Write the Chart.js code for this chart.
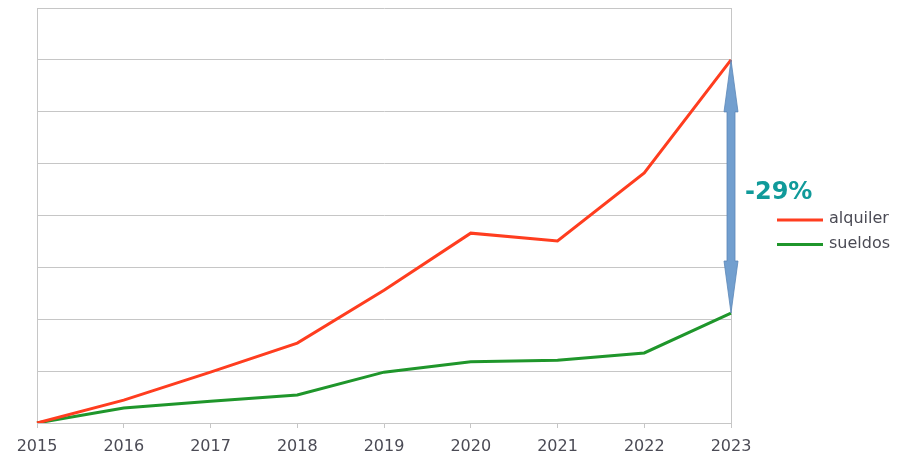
<!DOCTYPE html>
<html>
<head>
<meta charset="utf-8">
<script src="https://cdn.jsdelivr.net/npm/chart.js@4"></script>
<style>
  html, body { margin: 0; padding: 0; background: #fff; }
  #wrap { width: 913px; height: 464px; }
</style>
</head>
<body>
<div id="wrap"><canvas id="myChart"></canvas></div>
<script>
//** DATA */
const years = ['2015', '2016', '2017', '2018', '2019', '2020', '2021', '2022', '2023'];
const alquiler = [0, 0.44, 0.98, 1.54, 2.56, 3.66, 3.51, 4.82, 7.0];
const sueldos = [0, 0.29, 0.42, 0.54, 0.98, 1.18, 1.21, 1.35, 2.12];
const gapLabel = '-29%';

const gridColor = '#c6c6c6';
const textColor = '#4b4b55';
const fontFamily = "'DejaVu Sans', sans-serif";

//** ARROW + LABEL + LEGEND, drawn after the lines */
const extras = {
  id: 'extras',
  afterDatasetsDraw(chart) {
    const c = chart.ctx;
    const x = chart.scales.x.getPixelForValue(years.length - 1);
    const yTop = chart.scales.y.getPixelForValue(alquiler[alquiler.length - 1]);
    const yBot = chart.scales.y.getPixelForValue(sueldos[sueldos.length - 1]);
    const shaft = 4, head = 7, headLen = 52;

    c.save();
    c.fillStyle = '#729fcf';
    c.strokeStyle = '#5a87b8';
    c.lineWidth = 0.8;
    c.beginPath();
    c.moveTo(x, yTop);
    c.lineTo(x + head, yTop + headLen);
    c.lineTo(x + shaft, yTop + headLen);
    c.lineTo(x + shaft, yBot - headLen);
    c.lineTo(x + head, yBot - headLen);
    c.lineTo(x, yBot);
    c.lineTo(x - head, yBot - headLen);
    c.lineTo(x - shaft, yBot - headLen);
    c.lineTo(x - shaft, yTop + headLen);
    c.lineTo(x - head, yTop + headLen);
    c.closePath();
    c.fill();
    c.stroke();

    // percentage label
    c.fillStyle = '#109a9a';
    c.font = 'bold 24px ' + fontFamily;
    c.textBaseline = 'alphabetic';
    c.textAlign = 'left';
    c.fillText(gapLabel, 745, 199);

    // legend
    c.font = '16px ' + fontFamily;
    c.textBaseline = 'middle';
    chart.data.datasets.forEach((ds, i) => {
      const ly = 220 + i * 24.5;
      c.strokeStyle = ds.borderColor;
      c.lineWidth = 3;
      c.beginPath();
      c.moveTo(777, ly);
      c.lineTo(823, ly);
      c.stroke();
      c.fillStyle = textColor;
      c.fillText(ds.label, 829, ly - 1);
    });
    c.restore();
  }
};

const ctx = document.getElementById('myChart');

const chart = new Chart(ctx, {
  type: 'line',
  data: {
    labels: years,
    datasets: [
      {
        label: 'alquiler',
        data: alquiler,
        borderColor: '#ff3d1f',
        borderWidth: 3,
        pointRadius: 0,
        tension: 0,
      },
      {
        label: 'sueldos',
        data: sueldos,
        borderColor: '#1f962b',
        borderWidth: 3,
        pointRadius: 0,
        tension: 0,
      },
    ],
  },
  options: {
    responsive: true,
    maintainAspectRatio: false,
    animation: false,
    layout: {
      padding: { top: 8, right: 182, bottom: 0, left: 0 },
    },
    plugins: {
      legend: { display: false },
      tooltip: { enabled: false },
    },
    scales: {
      x: {
        offset: false,
        grid: {
          drawOnChartArea: false,
          color: gridColor,
          tickLength: 5,
        },
        border: { color: gridColor },
        ticks: {
          color: textColor,
          padding: 9,
          maxRotation: 0,
          font: { family: fontFamily, size: 16 },
        },
        afterFit(scale) { scale.height = 41; },
      },
      y: {
        min: 0,
        max: 8,
        ticks: { display: false, stepSize: 1 },
        grid: { color: gridColor, tickLength: 0 },
        border: { color: gridColor },
        afterFit(scale) { scale.width = 37; },
      },
      yRight: {
        position: 'right',
        ticks: { display: false },
        grid: { display: false },
        border: { display: true, color: gridColor },
        afterFit(scale) { scale.width = 0; },
      },
    },
  },
  plugins: [extras],
});
</script>
</body>
</html>
